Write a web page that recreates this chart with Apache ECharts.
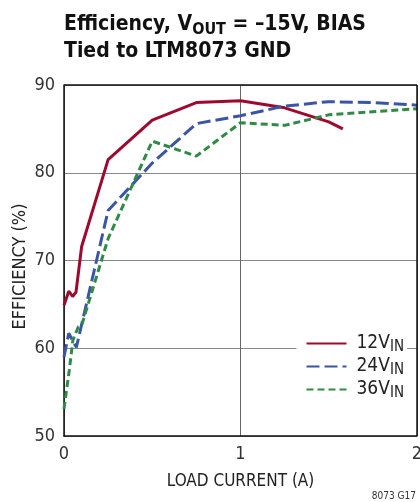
<!DOCTYPE html>
<html>
<head>
<meta charset="utf-8">
<script src="https://cdn.jsdelivr.net/npm/echarts@6/dist/echarts.min.js"></script>
<style>
html,body{margin:0;padding:0;background:#fff;overflow:hidden;width:420px;height:502px;}
#c{width:420px;height:502px;display:block;}
</style>
</head>
<body>
<div id="c"></div>
<script>
const seriesNames = ['12V{s|IN}', '24V{s|IN}', '36V{s|IN}'];
const xTicks = [0, 1, 2];
const yTicks = [50, 60, 70, 80, 90];
const v12 = [[0,64.9],[0.027,66.5],[0.049,65.9],[0.068,66.4],[0.1,71.6],[0.25,81.5],[0.5,86.0],[0.75,88.0],[1.0,88.2],[1.25,87.4],[1.5,85.8],[1.58,85.0]];
const v24 = [[0,59.0],[0.027,61.7],[0.07,60.1],[0.25,75.7],[0.5,81.1],[0.75,85.6],[1.0,86.5],[1.25,87.6],[1.5,88.1],[1.75,88.0],[2.0,87.7]];
const v36 = [[0,53.1],[0.03,57.5],[0.05,60.9],[0.08,62.4],[0.1,62.6],[0.25,72.5],[0.5,83.6],[0.75,81.9],[1.0,85.7],[1.25,85.4],[1.5,86.6],[2.0,87.3]];

const FONT = '"Liberation Sans Narrow","DejaVu Sans Condensed","Liberation Sans",sans-serif';
const chart = echarts.init(document.getElementById('c'), null, {renderer:'canvas', width:420, height:502});
const colors = ['#9e0a2e', '#3b55a6', '#2f8a45'];
chart.setOption({
  animation:false,
  textStyle:{fontFamily:FONT},
  title:{
    left:64, top:11, padding:0,
    text:'Efficiency, V{sub|OUT} = –15V, BIAS\nTied to LTM8073 GND',
    textStyle:{
      fontFamily:FONT, fontSize:21, fontWeight:'bold', color:'#111', lineHeight:27,
      rich:{sub:{fontFamily:FONT, fontSize:16, fontWeight:'bold', color:'#111', lineHeight:17, padding:[10,0,0,0]}}
    }
  },
  graphic:[{
    type:'text', right:4, bottom:1,
    style:{text:'8073 G17', font:'10px '+FONT, fill:'#333'}
  }],
  legend:{
    orient:'vertical', right:13, top:332,
    itemWidth:40, itemHeight:12, itemGap:0,
    backgroundColor:'#fff', padding:[0,3,0,9],
    itemStyle:{color:'rgba(0,0,0,0)', borderColor:'rgba(0,0,0,0)', borderWidth:0, opacity:0},
    data:seriesNames.map(n=>({name:n})),
    formatter:n=>n,
    textStyle:{fontFamily:FONT, fontSize:19, color:'#222', lineHeight:22, padding:[0,0,0,5],
      rich:{s:{fontFamily:FONT, fontSize:15, color:'#222', lineHeight:14, padding:[8,0,0,0]}}}
  },
  grid:{left:64, right:3, top:85, bottom:66, containLabel:false, outerBoundsMode:'none'},
  xAxis:{
    type:'value', min:xTicks[0], max:xTicks[xTicks.length-1], interval:1,
    name:'LOAD CURRENT (A)', nameLocation:'middle', nameGap:37,
    nameTextStyle:{fontFamily:FONT, fontSize:17, color:'#222'},
    axisLine:{show:true, lineStyle:{color:'#111', width:1.5}},
    axisTick:{show:false},
    axisLabel:{fontFamily:FONT, fontSize:18, color:'#333', margin:9},
    splitLine:{show:true, lineStyle:{color:'#666', width:1}}
  },
  yAxis:{
    type:'value', min:yTicks[0], max:yTicks[yTicks.length-1], interval:10,
    name:'EFFICIENCY (%)', nameLocation:'middle', nameGap:35, nameRotate:90, nameMoveOverlap:false,
    nameTextStyle:{fontFamily:FONT, fontSize:18, color:'#222', padding:[0,12,0,0]},
    axisLine:{show:true, lineStyle:{color:'#111', width:1.5}},
    axisTick:{show:false},
    axisLabel:{fontFamily:FONT, fontSize:18, color:'#333', margin:9},
    splitLine:{show:true, lineStyle:{color:'#888', width:1}}
  },
  series:[
    {name:seriesNames[0], type:'line', data:v12, symbol:'none', color:colors[0],
     lineStyle:{color:colors[0], width:3}},
    {name:seriesNames[1], type:'line', data:v24, symbol:'none', color:colors[1],
     lineStyle:{color:colors[1], width:3, type:[13,5]}},
    {name:seriesNames[2], type:'line', data:v36, symbol:'none', color:colors[2],
     lineStyle:{color:colors[2], width:3, type:[7,4]}},
    {type:'line', data:[], silent:true,
     markLine:{silent:true, symbol:'none', label:{show:false},
       lineStyle:{color:'#111', width:1.5, type:'solid'},
       data:[[{coord:[0,90]},{coord:[2,90]}],[{coord:[2,50]},{coord:[2,90]}]]}}
  ]
});
</script>
</body>
</html>
